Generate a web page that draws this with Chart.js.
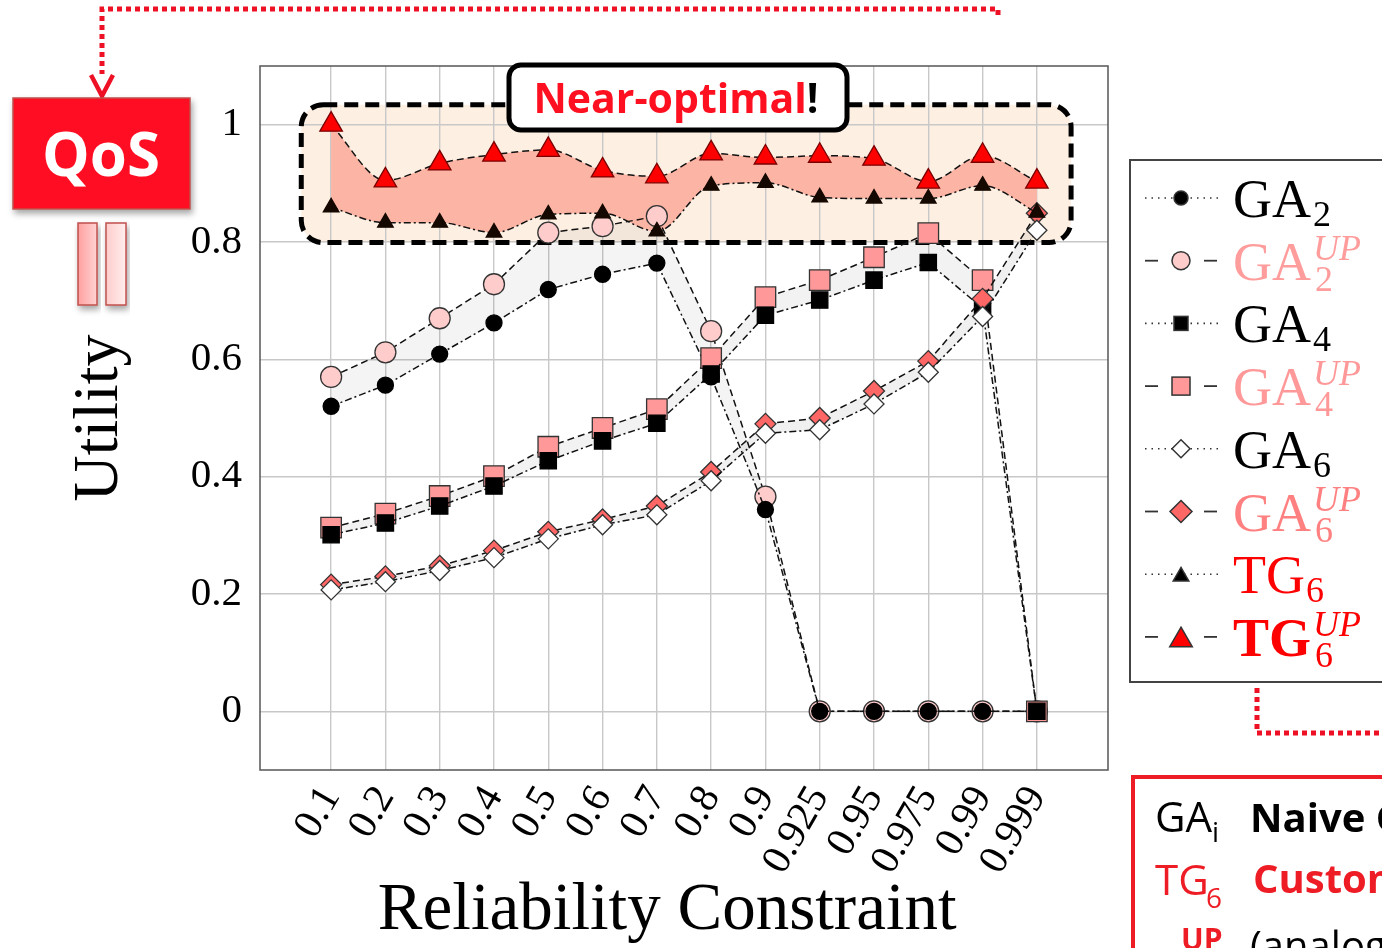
<!DOCTYPE html>
<html>
<head>
<meta charset="utf-8">
<script src="https://cdn.jsdelivr.net/npm/chart.js@4.4.1/dist/chart.umd.min.js"></script>
<style>
  html, body { margin: 0; padding: 0; background: #fff; }
  #wrap { position: relative; width: 1382px; height: 948px; overflow: hidden; }
  #chartBox { position: absolute; left: 0; top: 0; width: 1382px; height: 948px; }
  #deco { position: absolute; left: 0; top: 0; pointer-events: none; }
</style>
</head>
<body>
<div id="wrap">
  <div id="chartBox"><canvas id="utilChart"></canvas></div>
  <svg id="deco" width="1382" height="948" viewBox="0 0 1382 948">
    <defs>
      <filter id="shadow" x="-20%" y="-20%" width="140%" height="150%">
        <feDropShadow dx="2" dy="4" stdDeviation="3" flood-color="#000" flood-opacity="0.35"/>
      </filter>
      <linearGradient id="barA" x1="0" x2="1"><stop offset="0" stop-color="#ffa0a0"/><stop offset="1" stop-color="#ffd2d2"/></linearGradient>
      <linearGradient id="barB" x1="0" x2="1"><stop offset="0" stop-color="#ffcccc"/><stop offset="1" stop-color="#ffeeee"/></linearGradient>
    </defs>
    <g fill="none" stroke="#ee1125" stroke-width="5" stroke-dasharray="5 4">
      <polyline points="998,15 998,9 102,9 102,74"/>
      <polyline points="1257,688 1257,733 1382,733"/>
    </g>
    <polyline points="91,75 102,96 113,75" fill="none" stroke="#ee1125" stroke-width="4.5"/>
    <rect x="13" y="98" width="177" height="111" fill="#ff1122" stroke="#c0504d" stroke-width="1.5" filter="url(#shadow)"/>
    <text x="101" y="176" text-anchor="middle" font-family="'Open Sans', sans-serif" font-weight="700" font-size="60" fill="#fff">QoS</text>
    <rect x="78" y="223" width="19" height="82" fill="url(#barA)" stroke="#c0504d" stroke-width="1.5" filter="url(#shadow)"/>
    <rect x="106" y="223" width="20" height="82" fill="url(#barB)" stroke="#c0504d" stroke-width="1.5" filter="url(#shadow)"/>
    <rect x="1130" y="160" width="300" height="522" fill="#fff" stroke="#444" stroke-width="2"/>
    <g id="legend"></g>
    <rect x="1133" y="777" width="300" height="220" fill="#fff" stroke="#ee1c25" stroke-width="4"/>
    <g font-family="'Open Sans', sans-serif">
      <text x="1155" y="832" font-size="42" fill="#000">GA</text>
      <text x="1212" y="842" font-size="28" fill="#000">i</text>
      <text x="1250" y="832" font-size="40" font-weight="700" fill="#000">Naive GA</text>
      <text x="1155" y="895" font-size="42" fill="#ee1c25">TG</text>
      <text x="1206" y="908" font-size="28" fill="#ee1c25">6</text>
      <text x="1253" y="893" font-size="40" font-weight="700" fill="#ee1c25">Customized</text>
      <text x="1181" y="950" font-size="30" font-weight="700" fill="#ee1c25">UP</text>
      <text x="1250" y="960" font-size="40" fill="#000">(analogous</text>
    </g>
  </svg>
</div>
<script>
const reliability = ['0.1', '0.2', '0.3', '0.4', '0.5', '0.6', '0.7', '0.8', '0.9', '0.925', '0.95', '0.975', '0.99', '0.999'];
const yTicks = [0, 0.2, 0.4, 0.6, 0.8, 1];

const ga2   = [0.520, 0.556, 0.609, 0.662, 0.719, 0.745, 0.764, 0.570, 0.344, 0, 0, 0, 0, 0];
const ga2Up = [0.570, 0.612, 0.670, 0.728, 0.816, 0.827, 0.844, 0.648, 0.366, 0, 0, 0, 0, 0];
const ga4   = [0.301, 0.321, 0.350, 0.384, 0.427, 0.461, 0.491, 0.575, 0.675, 0.701, 0.735, 0.765, 0.687, 0];
const ga4Up = [0.313, 0.337, 0.367, 0.401, 0.451, 0.483, 0.515, 0.602, 0.706, 0.735, 0.774, 0.815, 0.735, 0];
const ga6   = [0.207, 0.221, 0.240, 0.262, 0.294, 0.318, 0.335, 0.393, 0.474, 0.480, 0.524, 0.578, 0.673, 0.820];
const ga6Up = [0.216, 0.230, 0.248, 0.274, 0.306, 0.327, 0.350, 0.408, 0.490, 0.500, 0.546, 0.597, 0.703, 0.849];
const tg6   = [0.859, 0.833, 0.833, 0.816, 0.847, 0.849, 0.818, 0.896, 0.901, 0.876, 0.874, 0.874, 0.896, 0.850];
const tg6Up = [1.000, 0.905, 0.934, 0.949, 0.957, 0.922, 0.912, 0.951, 0.944, 0.947, 0.942, 0.903, 0.947, 0.903];

const serif = "'Liberation Serif', 'DejaVu Serif', serif";
const dashDot = [7, 3, 2, 3];
const dashed = [7, 4];
const gridStyle = { color: '#c8c8c8', lineWidth: 1.4, drawTicks: false };

function pts(values) {
  return values.map((v, i) => ({ x: i, y: v }));
}

function series(label, values, opts) {
  return Object.assign({
    label: label,
    data: pts(values),
    borderColor: '#111',
    borderWidth: 1.5,
    pointBorderColor: '#333',
    pointBorderWidth: 1.3,
    fill: false,
    tension: 0
  }, opts);
}

const datasets = [
  series('GA2', ga2, { borderDash: dashDot, pointStyle: 'circle', pointRadius: 8, pointBackgroundColor: '#000', pointBorderColor: '#000', order: 7 }),
  series('GA2 UP', ga2Up, { borderDash: dashed, pointStyle: 'circle', pointRadius: 10.5, pointBackgroundColor: '#ffcccc', backgroundColor: 'rgba(0,0,0,0.045)', fill: { target: 0 }, order: 8 }),
  series('GA4', ga4, { borderDash: dashDot, pointStyle: 'rect', pointRadius: 11.5, pointBackgroundColor: '#000', pointBorderColor: '#000', order: 5 }),
  series('GA4 UP', ga4Up, { borderDash: dashed, pointStyle: 'rect', pointRadius: 14.5, pointBackgroundColor: '#ff9999', backgroundColor: 'rgba(0,0,0,0.05)', fill: { target: 2 }, order: 6 }),
  series('GA6', ga6, { borderDash: dashDot, pointStyle: 'rectRot', pointRadius: 10, pointBackgroundColor: '#fff', order: 3 }),
  series('GA6 UP', ga6Up, { borderDash: dashed, pointStyle: 'rectRot', pointRadius: 10.5, pointBackgroundColor: '#ff6666', backgroundColor: 'rgba(0,0,0,0.06)', fill: { target: 4 }, order: 4 }),
  series('TG6', tg6, { borderDash: dashDot, pointStyle: 'triangle', pointRadius: 9, pointBackgroundColor: '#140800', pointBorderColor: '#140800', cubicInterpolationMode: 'monotone', order: 1 }),
  series('TG6 UP', tg6Up, { borderDash: dashed, pointStyle: 'triangle', pointRadius: 13, pointBackgroundColor: '#ff0000', pointBorderColor: '#7a0000', backgroundColor: '#fcb4a4', fill: { target: 6 }, cubicInterpolationMode: 'monotone', order: 2 })
];

// highlight box, frame and the "Near-optimal!" tag
const decorations = {
  id: 'decorations',
  beforeDraw(chart) {
    const { ctx, scales: { x, y } } = chart;
    const l = x.getPixelForValue(-0.55), r = x.getPixelForValue(13.63);
    const t = y.getPixelForValue(1.034), b = y.getPixelForValue(0.799);
    ctx.save();
    ctx.fillStyle = '#fdf0e3';
    ctx.beginPath();
    ctx.roundRect(l, t, r - l, b - t, 22);
    ctx.fill();
    ctx.restore();
  },
  beforeDatasetsDraw(chart) {
    const { ctx, scales: { x, y } } = chart;
    const l = x.getPixelForValue(-0.55), r = x.getPixelForValue(13.63);
    const t = y.getPixelForValue(1.034), b = y.getPixelForValue(0.799);
    ctx.save();
    ctx.strokeStyle = '#000';
    ctx.lineWidth = 5;
    ctx.setLineDash([14, 7]);
    ctx.beginPath();
    ctx.roundRect(l, t, r - l, b - t, 22);
    ctx.stroke();
    ctx.restore();
  },
  afterDatasetsDraw(chart) {
    const { ctx, chartArea: a } = chart;
    ctx.save();
    ctx.strokeStyle = '#555';
    ctx.lineWidth = 1.5;
    ctx.strokeRect(a.left, a.top, a.right - a.left, a.bottom - a.top);
    ctx.restore();
  },
  afterDraw(chart) {
    const ctx = chart.ctx;
    ctx.save();
    ctx.fillStyle = '#fff';
    ctx.strokeStyle = '#000';
    ctx.lineWidth = 5;
    ctx.beginPath();
    ctx.roundRect(509, 65, 338, 65, 12);
    ctx.fill();
    ctx.stroke();
    ctx.font = "bold 41px 'Open Sans', sans-serif";
    ctx.textBaseline = 'alphabetic';
    const w1 = ctx.measureText('Near-optimal').width;
    const w2 = ctx.measureText('!').width;
    const x0 = 676 - (w1 + w2) / 2;
    ctx.fillStyle = '#ff1020';
    ctx.fillText('Near-optimal', x0, 113);
    ctx.fillStyle = '#000';
    ctx.fillText('!', x0 + w1, 113);
    ctx.restore();
  }
};

new Chart(document.getElementById('utilChart'), {
  type: 'line',
  data: { datasets: datasets },
  options: {
    responsive: true,
    maintainAspectRatio: false,
    animation: false,
    events: [],
    layout: { padding: { left: 0, top: 66, right: 274, bottom: 0 } },
    plugins: {
      legend: { display: false },
      tooltip: { enabled: false },
      filler: { drawTime: 'beforeDatasetsDraw' }
    },
    scales: {
      x: {
        type: 'linear',
        min: -1.31,
        max: 14.31,
        afterBuildTicks: s => { s.ticks = reliability.map((_, i) => ({ value: i })); },
        afterFit: s => { s.height = 178; },
        grid: gridStyle,
        border: { display: false },
        ticks: {
          autoSkip: false,
          minRotation: 60,
          maxRotation: 60,
          padding: 8,
          color: '#000',
          font: { family: serif, size: 41 },
          callback: v => reliability[v]
        },
        title: {
          display: true,
          // trailing en space nudges the centred title left, as in the original
          text: 'Reliability Constraint\u2002',
          color: '#000',
          font: { family: serif, size: 67, lineHeight: 1.1 },
          padding: { top: 0, bottom: 0 }
        }
      },
      y: {
        min: -0.1,
        max: 1.1,
        afterBuildTicks: s => { s.ticks = yTicks.map(v => ({ value: v })); },
        afterFit: s => { s.width = 260; },
        grid: gridStyle,
        border: { display: false },
        ticks: {
          padding: 18,
          color: '#000',
          font: { family: serif, size: 41 },
          callback: v => String(v)
        },
        title: {
          display: true,
          text: 'Utility',
          color: '#000',
          font: { family: serif, size: 64, lineHeight: 1.2 },
          padding: { top: 62, bottom: 0 }
        }
      }
    }
  },
  plugins: [decorations]
});

// legend, drawn as svg next to the plot
const legendRows = [
  { name: 'GA', sub: '2', up: false, color: '#000', shape: 'circle', size: 7, fill: '#000' },
  { name: 'GA', sub: '2', up: true, color: '#ff9c9c', shape: 'circle', size: 9, fill: '#ffcccc' },
  { name: 'GA', sub: '4', up: false, color: '#000', shape: 'rect', size: 7, fill: '#000' },
  { name: 'GA', sub: '4', up: true, color: '#ff9999', shape: 'rect', size: 9, fill: '#ff9999' },
  { name: 'GA', sub: '6', up: false, color: '#000', shape: 'diamond', size: 9, fill: '#fff' },
  { name: 'GA', sub: '6', up: true, color: '#ff8080', shape: 'diamond', size: 11, fill: '#ff6666' },
  { name: 'TG', sub: '6', up: false, color: '#ff0000', shape: 'triangle', size: 9, fill: '#000' },
  { name: 'TG', sub: '6', up: true, bold: true, color: '#ff0000', shape: 'triangle', size: 13, fill: '#ff0000' }
];

function marker(shape, cx, cy, s, fill) {
  const a = `fill="${fill}" stroke="#333" stroke-width="1.5"`;
  if (shape === 'circle') return `<circle cx="${cx}" cy="${cy}" r="${s}" ${a}/>`;
  if (shape === 'rect') return `<rect x="${cx - s}" y="${cy - s}" width="${2 * s}" height="${2 * s}" ${a}/>`;
  if (shape === 'diamond') return `<polygon points="${cx},${cy - s} ${cx + s},${cy} ${cx},${cy + s} ${cx - s},${cy}" ${a}/>`;
  const c = cy + s / 4;
  return `<polygon points="${cx},${c - s} ${cx + s * 0.866},${c + s / 2} ${cx - s * 0.866},${c + s / 2}" ${a}/>`;
}

let svg = '';
legendRows.forEach((row, i) => {
  const cy = 198 + i * 62.7;
  if (row.up) {
    svg += `<line x1="1145" y1="${cy}" x2="1158" y2="${cy}" stroke="#333" stroke-width="1.8"/>`;
    svg += `<line x1="1204" y1="${cy}" x2="1217" y2="${cy}" stroke="#333" stroke-width="1.8"/>`;
  } else {
    svg += `<line x1="1145" y1="${cy}" x2="1218" y2="${cy}" stroke="#333" stroke-width="1.6" stroke-dasharray="1.5 5"/>`;
  }
  svg += marker(row.shape, 1181, cy, row.size, row.fill);
  const base = cy + 19;
  const sx = (row.name === 'TG' && !row.bold) ? 1306 : 1313;
  const fw = row.bold ? ' font-weight="700"' : '';
  svg += `<g fill="${row.color}" font-family="${serif}">`;
  svg += `<text x="1233" y="${base}" font-size="54"${fw}>${row.name}</text>`;
  if (row.up) {
    svg += `<text x="${sx}" y="${base - 20}" font-size="36" font-style="italic">UP</text>`;
    svg += `<text x="${sx + 2}" y="${base + 11}" font-size="36">${row.sub}</text>`;
  } else {
    svg += `<text x="${sx}" y="${base + 9}" font-size="36">${row.sub}</text>`;
  }
  svg += '</g>';
});
document.getElementById('legend').innerHTML = svg;
</script>
</body>
</html>
